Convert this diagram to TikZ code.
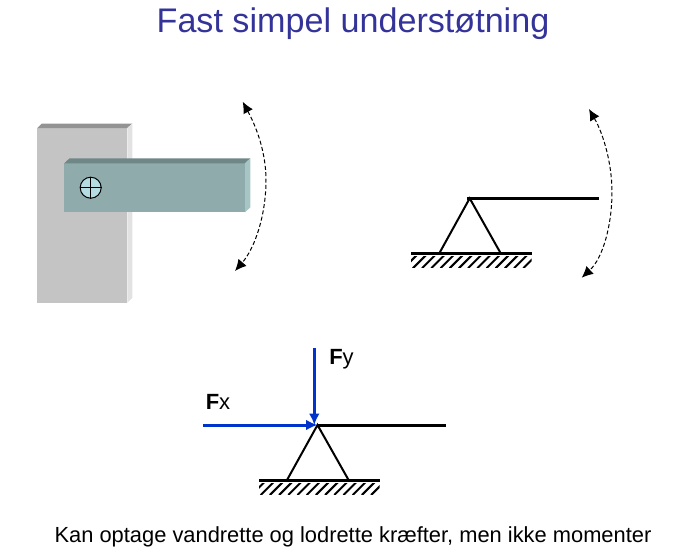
\documentclass[tikz,border=0pt]{standalone}
\usepackage{fontspec}
\setmainfont{Liberation Sans}
\usetikzlibrary{arrows.meta}
\definecolor{titleblue}{HTML}{333399}
\definecolor{forceblue}{HTML}{0033CC}
\definecolor{wallfront}{HTML}{C4C4C4}
\definecolor{walltop}{HTML}{939393}
\definecolor{wallside}{HTML}{E2E2E2}
\definecolor{beamfront}{HTML}{8FABAB}
\definecolor{beamtop}{HTML}{6F8787}
\definecolor{beamside}{HTML}{A7C5C5}
\definecolor{boltfill}{HTML}{B4DCE2}
\tikzset{
  x=0.75pt,y=-0.75pt,
  swing/.style={dash pattern=on 3pt off 1.8pt,line width=0.75pt,{Latex[length=8.5pt,width=8pt]}-{Latex[length=8.5pt,width=8pt]}},
  bar/.style={line width=2.25pt,line cap=butt},
  strut/.style={line width=1.5pt},
  ground/.style={line width=1.9pt},
  hatchline/.style={line width=1.5pt},
  force/.style={draw=forceblue,line width=2.25pt,-{Latex[length=8.5pt,width=8pt]}},
  lab/.style={font=\fontsize{16.5}{20}\selectfont,inner sep=0pt},
  pics/support/.style={code={
    \draw[ground] (-58.5,28.5) -- (62,28.5);
    \begin{scope}
      \clip (-58.5,31) rectangle (62,42.5);
      \foreach \i in {0,...,14} {\draw[hatchline] (-66+\i*9.2,43) -- (-66+\i*9.2+13,30);}
    \end{scope}
  }}
}
\begin{document}
\begin{tikzpicture}
\useasboundingbox (0,0) rectangle (687,554);
\node[text=titleblue,font=\fontsize{25.6}{30}\selectfont,inner sep=0pt] (title) at (353,24) {Fast simpel understøtning};
% wall
\fill[wallfront] (37.3,128) rectangle (127.3,302.7);
\fill[walltop] (37.3,128) -- (42,123.5) -- (132.3,123.5) -- (127.3,128) -- cycle;
\fill[wallside] (127.3,128) -- (132.3,123.5) -- (132.3,298) -- (127.3,302.7) -- cycle;
% beam
\fill[beamfront] (64.3,163.3) rectangle (245,212.3);
\fill[beamtop] (64.3,163.3) -- (69.5,158.3) -- (250.3,158.3) -- (245,163.3) -- cycle;
\fill[beamside] (245,163.3) -- (250.3,158.3) -- (250.3,207.3) -- (245,212.3) -- cycle;
\node[circle,draw=black,fill=boltfill,line width=0.75pt,minimum size=21pt*0.75,inner sep=0pt] (bolt) at (90.7,187.7) {};
\draw[line width=0.75pt] (bolt.north) -- (bolt.south) (bolt.west) -- (bolt.east);
% swing 1
\coordinate (s1a) at (242.7,101.7);
\coordinate (s1b) at (235,271);
\draw[swing] (s1a) .. controls (258,130) and (266,155) .. (266,180) .. controls (266,215) and (255,248) .. (s1b);
% right support
\coordinate (apexA) at (469.7,198.3);
\coordinate (baseA1) at (439.3,253.3);
\coordinate (baseA2) at (500.7,253.3);
\coordinate (barA1) at (467.3,198.3);
\coordinate (barA2) at (598.5,198.3);
\draw[strut] (baseA1) -- (apexA) -- (baseA2);
\draw[bar] (barA1) -- (barA2);
\pic at (469.7,225.2) {support};
\coordinate (s2a) at (589,109);
\coordinate (s2b) at (581.7,277.7);
\draw[swing] (s2a) .. controls (604,135) and (612,165) .. (612,191.7) .. controls (612,225) and (603,258) .. (s2b);
% lower support
\coordinate (apexB) at (317.5,425);
\coordinate (baseB1) at (287.3,479.5);
\coordinate (baseB2) at (348.3,479.5);
\coordinate (barB2) at (446,425);
\coordinate (fy) at (314.3,348.3);
\coordinate (fyEnd) at (314.3,425);
\coordinate (fx) at (203.3,425);
\draw[strut] (baseB1) -- (apexB) -- (baseB2);
\draw[bar] (apexB) -- (barB2);
\pic at (317.5,452) {support};
\draw[force] (fy) -- (fyEnd);
\draw[force] (fx) -- (apexB);
\node[lab,anchor=base west] (fylabel) at (329,364) {\textbf{F}y};
\node[lab,anchor=base west] (fxlabel) at (205.5,409) {\textbf{F}x};
\node[font=\fontsize{16.4}{20}\selectfont,inner sep=0pt] (caption) at (353,537) {Kan optage vandrette og lodrette kræfter, men ikke momenter};
\end{tikzpicture}
\end{document}
